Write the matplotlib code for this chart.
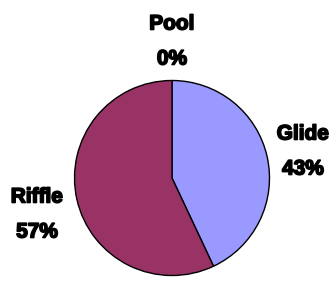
import matplotlib.pyplot as plt
import matplotlib.patheffects as pe

categories = ['Pool', 'Glide', 'Riffle']
shares = [0, 43, 57]
colors = ['#9999FF', '#9999FF', '#993366']

W, H = 332, 282
fig = plt.figure(figsize=(W / 100, H / 100), dpi=100)

# pie centre and radius in pixels (from the top-left)
cx, cy, r = 172, 178, 97.5
ax = fig.add_axes([(cx - r) / W, (H - cy - r) / H, 2 * r / W, 2 * r / H])
ax.pie(shares, colors=colors, startangle=90, counterclock=False,
       wedgeprops=dict(edgecolor='black', linewidth=1.0))
ax.set_xlim(-1, 1)
ax.set_ylim(-1, 1)
ax.set_aspect('auto')
ax.axis('off')

# label positions (pixels)
label_pos = {'Pool': (172, 24), 'Glide': (303, 134), 'Riffle': (37, 197)}
heavy = [pe.withStroke(linewidth=1.2, foreground='black')]
for name, val in zip(categories, shares):
    x, y = label_pos[name]
    for dy, s in [(0, name), (35, f'{val}%')]:
        fig.text(x / W, 1 - (y + dy) / H, s, ha='center', va='center',
                 fontsize=15, fontweight='bold',
                 family=['Liberation Sans Narrow', 'Liberation Sans'],
                 path_effects=heavy)

fig.savefig('out.png', dpi=100)
